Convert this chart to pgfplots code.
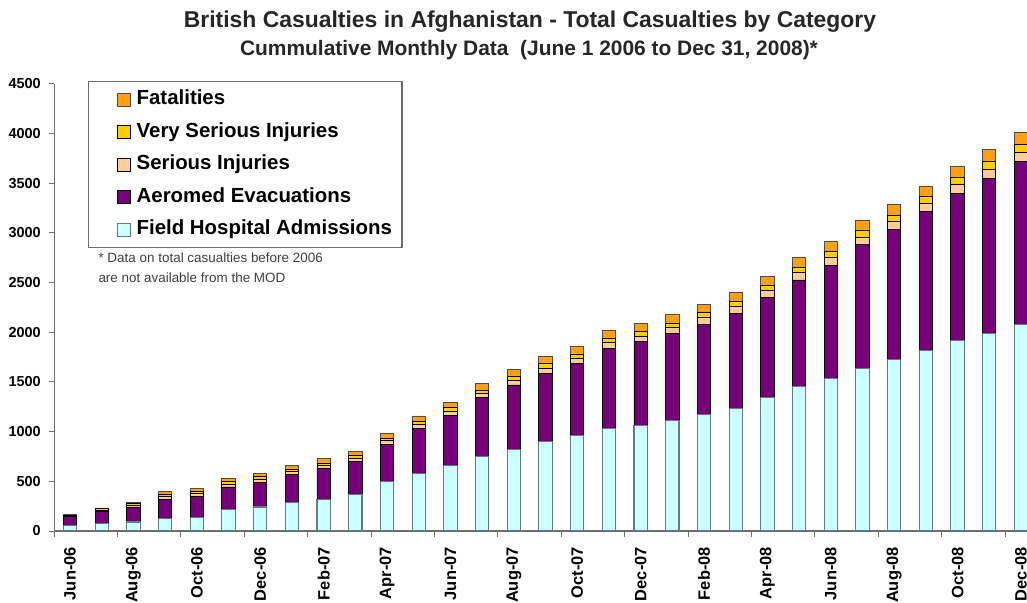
\documentclass[border=0pt]{standalone}
\usepackage{fontspec}
\setmainfont{Liberation Sans}
\usepackage{pgfplots}
\usepackage{pgfplotstable}
\pgfplotsset{compat=1.18}

\definecolor{fhafill}{RGB}{204,255,255}
\definecolor{fhaedge}{RGB}{95,125,125}
\definecolor{aeromed}{RGB}{118,0,122}
\definecolor{serious}{RGB}{255,204,153}
\definecolor{vserious}{RGB}{255,204,0}
\definecolor{fatal}{RGB}{255,160,20}
\definecolor{axisgray}{RGB}{110,110,110}

% Cumulative totals per month, June 2006 (0) to December 2008 (30)
\pgfplotstableread{
idx fha  aero si vsi fat
0   57   90   6  4   5
1   77   118  16 13  8
2   91   148  22 18  10
3   124  192  29 23  32
4   134  212  29 23  32
5   212  231  29 24  35
6   242  251  29 24  37
7   286  285  29 24  38
8   319  308  32 26  42
9   363  340  32 26  44
10  494  380  33 27  48
11  581  450  41 34  52
12  655  511  40 34  58
13  746  594  44 35  63
14  823  647  48 39  70
15  900  690  51 42  72
16  958  731  51 42  75
17  1035 805  54 44  77
18  1065 840  55 45  82
19  1109 880  58 47  84
20  1176 907  64 52  86
21  1233 961  65 53  88
22  1344 1008 67 54  90
23  1455 1072 72 57  93
24  1532 1143 78 63  100
25  1640 1240 79 64  102
26  1727 1308 80 66  104
27  1814 1405 80 66  106
28  1915 1485 89 72  108
29  1989 1562 92 80  114
30  2076 1640 95 80  118
}\casualties

\begin{document}
\begin{tikzpicture}
\path[use as bounding box] (0,0) rectangle (1027bp,603bp);

\node[font=\bfseries\fontsize{23}{26}\selectfont, text=black!85] at (530bp,581bp)
  {British Casualties in Afghanistan - Total Casualties by Category};
\node[font=\bfseries\fontsize{21}{24}\selectfont, text=black!85] at (529bp,553bp)
  {Cummulative Monthly Data\ \ (June 1 2006 to Dec 31, 2008)*};

\begin{axis}[
  at={(54.2bp,72bp)}, anchor=south west,
  scale only axis, width=972.8bp, height=447bp,
  xmin=-0.5, xmax=30.19, ymin=0, ymax=4500,
  ybar stacked, bar width=13.3bp,
  axis x line*=bottom, axis y line*=left,
  axis line style={axisgray, line width=1.2bp, -},
  tick align=outside,
  major tick length=5bp, minor tick length=6bp,
  ytick={0,500,...,4500},
  ytick style={axisgray, line width=1bp},
  yticklabel style={font=\bfseries\fontsize{14.5}{16}\selectfont, xshift=-5bp},
  /pgf/number format/assume math mode=true,
  /pgf/number format/1000 sep={},
  xtick={0,2,...,30},
  xticklabels={Jun-06,Aug-06,Oct-06,Dec-06,Feb-07,Apr-07,Jun-07,Aug-07,
               Oct-07,Dec-07,Feb-08,Apr-08,Jun-08,Aug-08,Oct-08,Dec-08},
  major x tick style={draw=none},
  minor xtick={-0.5,1.5,...,29.5},
  minor x tick style={draw=axisgray, line width=1bp},
  xticklabel style={yshift=-11bp, rotate=90, anchor=east, inner sep=0pt,
                    font=\bfseries\fontsize{16.5}{18}\selectfont},
  reverse legend,
  legend cell align=left,
  legend image code/.code={
    \path (0bp,0bp) (37bp,0bp);
    \draw[#1, line width=0.8bp] (21bp,-6.5bp) rectangle (34bp,6.5bp);},
  legend style={at={(axis description cs:0.0347,1.0067)}, anchor=north west,
                draw=axisgray, line width=1.2bp, fill=white,
                font=\bfseries\fontsize{20.5}{23}\selectfont,
                inner xsep=7bp, inner ysep=1.75bp, row sep=0bp,
                nodes={text height=15bp, text depth=4.5bp,
                       inner xsep=3bp, inner ysep=6.5bp}},
]
\addplot[fill=fhafill, draw=fhaedge, line width=1.1bp] table[x=idx, y=fha] {\casualties};
\addlegendentry{Field Hospital Admissions}
\addplot[fill=aeromed, draw=black, line width=0.9bp] table[x=idx, y=aero] {\casualties};
\addlegendentry{Aeromed Evacuations}
\addplot[fill=serious, draw=black, line width=0.9bp] table[x=idx, y=si] {\casualties};
\addlegendentry{Serious Injuries}
\addplot[fill=vserious, draw=black, line width=0.9bp] table[x=idx, y=vsi] {\casualties};
\addlegendentry{Very Serious Injuries}
\addplot[fill=fatal, draw=black!70, line width=0.9bp] table[x=idx, y=fat] {\casualties};
\addlegendentry{Fatalities}
\end{axis}

\node[anchor=base west, font=\fontsize{13.5}{16}\selectfont, text=black!75] at (95bp,340bp)
  {* Data on total casualties before 2006};
\node[anchor=base west, font=\fontsize{13.5}{16}\selectfont, text=black!75] at (95bp,320bp)
  {are not available from the MOD};
\end{tikzpicture}
\end{document}
